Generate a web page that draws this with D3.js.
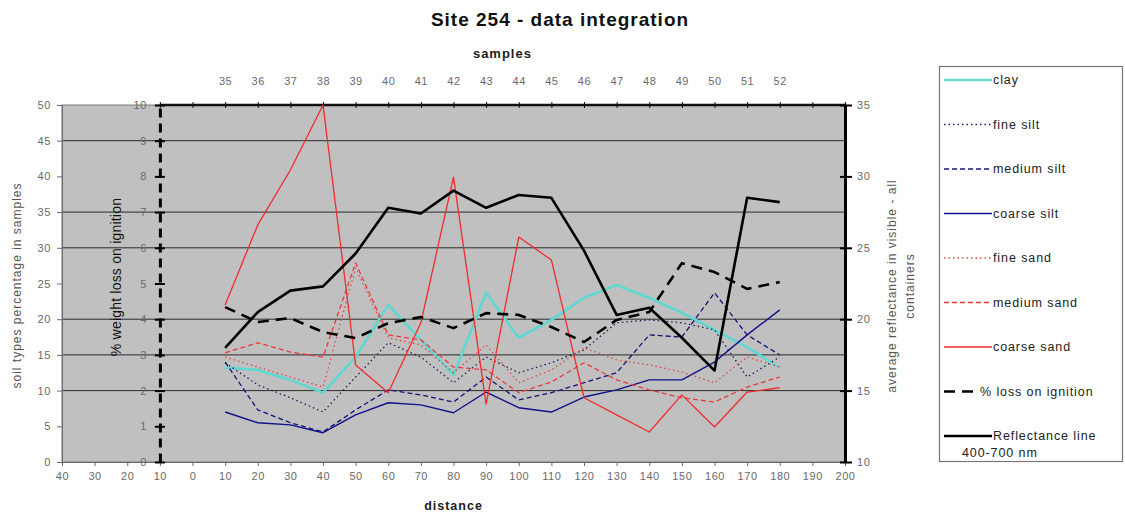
<!DOCTYPE html>
<html>
<head>
<meta charset="utf-8">
<script src="https://cdn.jsdelivr.net/npm/d3@7"></script>
<style>
  html, body { margin: 0; padding: 0; background: #fff; }
  svg { display: block; font-family: "Liberation Sans", Arial, sans-serif; }
</style>
</head>
<body>
<svg id="chart" width="1125" height="516"></svg>
<script>
// Sampling positions along the transect and their sample numbers
const distance = [10, 20, 30, 40, 50, 60, 70, 80, 90, 100, 110, 120, 130, 140, 150, 160, 170, 180];
const samples  = [35, 36, 37, 38, 39, 40, 41, 42, 43, 44, 45, 46, 47, 48, 49, 50, 51, 52];

// Grain size fractions (% of sample)
const clay       = [13.2, 12.9, 11.5, 9.7, 14.7, 22.0, 17.1, 12.2, 23.7, 17.4, 19.9, 23.0, 24.8, 23.0, 20.9, 18.5, 16.1, 13.2];
const fineSilt   = [13.9, 10.8, 9.0, 7.0, 11.9, 16.7, 14.7, 11.1, 14.7, 12.5, 13.9, 15.7, 19.5, 19.9, 19.5, 18.5, 11.9, 14.7];
const mediumSilt = [14.0, 7.3, 5.5, 4.2, 7.3, 10.1, 9.4, 8.4, 11.9, 8.7, 9.7, 11.1, 12.5, 17.8, 17.5, 23.7, 17.8, 15.0];
const coarseSilt = [7.0, 5.5, 5.2, 4.1, 6.6, 8.3, 8.0, 6.9, 9.8, 7.6, 7.0, 9.1, 10.1, 11.5, 11.5, 14.0, 17.8, 21.3];
const fineSand   = [14.7, 13.3, 11.9, 10.5, 27.2, 17.4, 16.4, 12.5, 16.4, 11.1, 12.9, 16.0, 14.3, 13.6, 12.6, 11.1, 14.7, 13.3];
const mediumSand = [15.3, 16.7, 15.4, 14.7, 27.9, 17.8, 17.1, 13.3, 12.9, 9.7, 11.2, 13.9, 11.5, 10.1, 9.0, 8.4, 10.5, 11.9];
const coarseSand = [22.0, 33.2, 40.9, 50.0, 13.6, 9.7, 19.5, 39.9, 8.1, 31.5, 28.3, 9.0, 6.6, 4.2, 9.4, 4.9, 9.8, 10.4];

// % weight loss on ignition
const lossOnIgnition = [4.34, 3.92, 4.03, 3.64, 3.47, 3.89, 4.06, 3.75, 4.17, 4.12, 3.78, 3.36, 3.98, 4.20, 5.57, 5.32, 4.85, 5.04];

// Average reflectance 400-700 nm
const reflectance = [18.0, 20.5, 22.0, 22.3, 24.6, 27.8, 27.4, 29.0, 27.8, 28.7, 28.5, 24.8, 20.3, 20.8, 18.7, 16.4, 28.5, 28.2];

// Axis ticks
const distanceTicks = d3.range(-40, 201, 10);
const topTicks      = d3.range(-10, 201, 10);
const soilTicks     = d3.range(0, 51, 5);
const lossTicks     = d3.range(0, 11, 1);
const reflTicks     = d3.range(10, 36, 5);
const gridValues    = [10, 15, 20, 30, 35, 45];

const svg = d3.select("#chart");
const L = 62, R = 845, T = 105, B = 462;

const x     = d3.scaleLinear().domain([-40, 200]).range([L, R]);
const ySoil = d3.scaleLinear().domain([0, 50]).range([B, T]);
const yLoss = d3.scaleLinear().domain([0, 10]).range([B, T]);
const yRefl = d3.scaleLinear().domain([10, 35]).range([B, T]);

// Plot area
svg.append("rect")
  .attr("x", L).attr("y", T).attr("width", R - L).attr("height", B - T)
  .attr("fill", "#c0c0c0").attr("stroke", "#7a7a7a").attr("stroke-width", 1);

// Horizontal gridlines
svg.append("g").selectAll("line").data(gridValues).join("line")
  .attr("x1", L).attr("x2", R)
  .attr("y1", d => ySoil(d)).attr("y2", d => ySoil(d))
  .attr("stroke", "#2a2a2a").attr("stroke-width", 1);

const tickText = sel => sel.selectAll("text")
  .attr("fill", "#6a6a6a").style("font-size", "11px").style("letter-spacing", "0.6px")
  .style("font-family", "'Liberation Sans', Arial, sans-serif");

// Bottom axis: distance
const gBottom = svg.append("g").attr("transform", `translate(0,${B})`)
  .call(d3.axisBottom(x).tickValues(distanceTicks).tickFormat(d => Math.abs(d)).tickSize(4).tickSizeOuter(0).tickPadding(6));
gBottom.select(".domain").attr("stroke", "#6a6a6a");
gBottom.selectAll(".tick line").attr("stroke", "#6a6a6a");
tickText(gBottom);

// Left axis: soil types %
const gLeft = svg.append("g").attr("transform", `translate(${L},0)`)
  .call(d3.axisLeft(ySoil).tickValues(soilTicks).tickSize(5).tickSizeOuter(0).tickPadding(6));
gLeft.select(".domain").attr("stroke", "#6a6a6a");
gLeft.selectAll(".tick line").attr("stroke", "#6a6a6a");
tickText(gLeft);

// Top axis: sample numbers
const sampleAt = new Map(distance.map((d, i) => [d, samples[i]]));
const gTop = svg.append("g").attr("transform", `translate(0,${T})`)
  .call(d3.axisTop(x).tickValues(topTicks).tickFormat(d => sampleAt.has(d) ? sampleAt.get(d) : "").tickSize(3).tickSizeOuter(0).tickPadding(17));
gTop.select(".domain").attr("stroke", "#111").attr("stroke-width", 2.5)
  .attr("d", `M${x(-10)},0H${R}`);
gTop.selectAll(".tick line").attr("stroke", "#111").attr("y1", -3).attr("y2", 3);
tickText(gTop);

// Inner axis: % weight loss on ignition
const gLoss = svg.append("g").attr("transform", `translate(${x(-10)},0)`)
  .call(d3.axisLeft(yLoss).tickValues(lossTicks).tickSize(5).tickSizeOuter(0).tickPadding(8));
gLoss.select(".domain").attr("stroke", "#000").attr("stroke-width", 3).attr("stroke-dasharray", "9,6");
gLoss.selectAll(".tick line").attr("stroke", "#000").attr("stroke-width", 2).attr("x1", -5).attr("x2", 5);
tickText(gLoss);

// Right axis: reflectance
const gRight = svg.append("g").attr("transform", `translate(${R},0)`)
  .call(d3.axisRight(yRefl).tickValues(reflTicks).tickSize(6).tickSizeOuter(0).tickPadding(6));
gRight.select(".domain").attr("stroke", "#000").attr("stroke-width", 3);
gRight.selectAll(".tick line").attr("stroke", "#000").attr("stroke-width", 2).attr("x1", -5).attr("x2", 7);
tickText(gRight);

// Series
const series = [
  { name: "clay",        values: clay,       y: ySoil, color: "#5ed8d0", width: 2.6, dash: null },
  { name: "fine silt",   values: fineSilt,   y: ySoil, color: "#1c1c5a", width: 1.3, dash: "1.5,3" },
  { name: "medium silt", values: mediumSilt, y: ySoil, color: "#14147a", width: 1.3, dash: "5,3" },
  { name: "coarse silt", values: coarseSilt, y: ySoil, color: "#10108a", width: 1.4, dash: null },
  { name: "fine sand",   values: fineSand,   y: ySoil, color: "#e04848", width: 1.3, dash: "1.5,3" },
  { name: "medium sand", values: mediumSand, y: ySoil, color: "#e83a3a", width: 1.3, dash: "5,3" },
  { name: "coarse sand", values: coarseSand, y: ySoil, color: "#f02c2c", width: 1.3, dash: null },
  { name: "% loss on ignition", values: lossOnIgnition, y: yLoss, color: "#000", width: 2.6, dash: "11,7", short: true },
  { name: "Reflectance line", name2: "400-700 nm", values: reflectance, y: yRefl, color: "#000", width: 2.6, dash: null }
];

const gLines = svg.append("g");
series.forEach(s => {
  const line = d3.line().x((d, i) => x(distance[i])).y(d => s.y(d));
  gLines.append("path")
    .datum(s.values)
    .attr("d", line)
    .attr("fill", "none")
    .attr("stroke", s.color)
    .attr("stroke-width", s.width)
    .attr("stroke-linejoin", "round")
    .attr("stroke-dasharray", s.dash);
});

// Titles
svg.append("text").attr("x", 560).attr("y", 26).attr("text-anchor", "middle")
  .style("font-size", "19px").style("font-weight", "bold").style("letter-spacing", "1px").attr("fill", "#111")
  .text("Site 254 - data integration");
svg.append("text").attr("x", (x(-10) + R) / 2).attr("y", 58).attr("text-anchor", "middle")
  .style("font-size", "13px").style("font-weight", "bold").style("letter-spacing", "1px").attr("fill", "#222")
  .text("samples");
svg.append("text").attr("x", (L + R) / 2).attr("y", 510).attr("text-anchor", "middle")
  .style("font-size", "12.5px").style("font-weight", "bold").style("letter-spacing", "1px").attr("fill", "#222")
  .text("distance");
svg.append("text").attr("transform", `translate(21,${(T + B) / 2 + 2}) rotate(-90)`)
  .attr("text-anchor", "middle").style("font-size", "12px").style("letter-spacing", "1px").attr("fill", "#555")
  .text("soil types percentage in samples");
svg.append("text").attr("transform", `translate(121,277) rotate(-90)`)
  .attr("text-anchor", "middle").style("font-size", "14px").style("letter-spacing", "0.2px").attr("fill", "#111")
  .text("% weight loss on ignition");
svg.append("text").attr("transform", `translate(896,286) rotate(-90)`)
  .attr("text-anchor", "middle").style("font-size", "12px").style("letter-spacing", "1px").attr("fill", "#555")
  .text("average reflectance in visible - all");
svg.append("text").attr("transform", `translate(914,286) rotate(-90)`)
  .attr("text-anchor", "middle").style("font-size", "12px").style("letter-spacing", "1px").attr("fill", "#555")
  .text("containers");

// Legend
const legend = svg.append("g");
legend.append("rect").attr("x", 939.5).attr("y", 66.5).attr("width", 183).attr("height", 395)
  .attr("fill", "#fff").attr("stroke", "#777").attr("stroke-width", 1.2);
series.forEach((s, i) => {
  const cy = 80 + i * 44.5;
  const x2 = s.short ? 975 : 992;
  legend.append("line").attr("x1", 944).attr("x2", x2).attr("y1", cy).attr("y2", cy)
    .attr("stroke", s.color).attr("stroke-width", Math.min(s.width, 2.4)).attr("stroke-dasharray", s.dash);
  legend.append("text").attr("x", s.short ? 980 : 993).attr("y", cy + 4)
    .style("font-size", "12.5px").style("letter-spacing", "0.9px").attr("fill", "#222").text(s.name);
  if (s.name2) {
    legend.append("text").attr("x", 962).attr("y", cy + 21)
      .style("font-size", "12.5px").style("letter-spacing", "0.9px").attr("fill", "#222").text(s.name2);
  }
});
</script>
</body>
</html>
